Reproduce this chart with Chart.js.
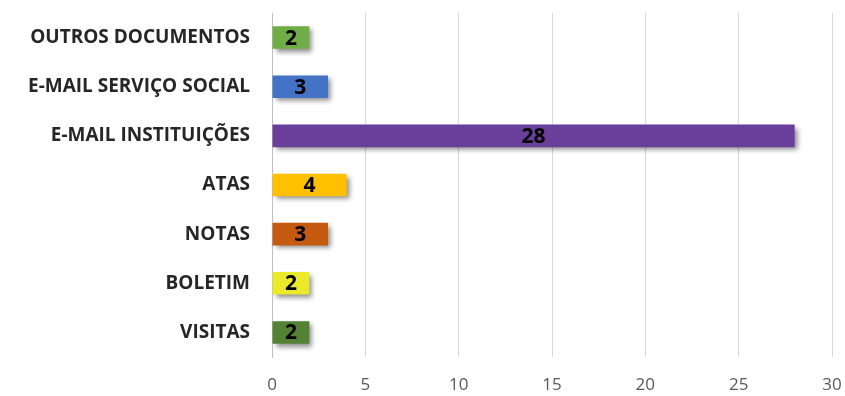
<!DOCTYPE html>
<html>
<head>
<meta charset="utf-8">
<script src="https://cdn.jsdelivr.net/npm/chart.js@4/dist/chart.umd.min.js"></script>
<style>
  html, body { margin: 0; padding: 0; background: #fff; }
  #wrap { width: 845px; height: 396px; }
</style>
</head>
<body>
<div id="wrap"><canvas id="docchart"></canvas></div>
<script>
// categories, top to bottom
var categorias = ['OUTROS DOCUMENTOS', 'E-MAIL SERVIÇO SOCIAL', 'E-MAIL INSTITUIÇÕES', 'ATAS', 'NOTAS', 'BOLETIM', 'VISITAS'];
var quantidades = [2, 3, 28, 4, 3, 2, 2];
var cores = ['#70AD47', '#4472C4', '#6A3F9B', '#FFC000', '#C55A11', '#EAEA2A', '#548235'];
var eixoX = [0, 5, 10, 15, 20, 25, 30];

// soft drop shadow under the bars
const sombraBarras = {
    id: 'sombraBarras',
    beforeDatasetsDraw(chart) {
        const ctx = chart.ctx;
        ctx.save();
        ctx.shadowColor = 'rgba(0,0,0,0.45)';
        ctx.shadowBlur = 5;
        ctx.shadowOffsetX = 3;
        ctx.shadowOffsetY = 3;
    },
    afterDatasetsDraw(chart) {
        chart.ctx.restore();
    }
};

// value written in the middle of each bar
const rotulosValor = {
    id: 'rotulosValor',
    afterDatasetsDraw(chart) {
        const ctx = chart.ctx;
        const meta = chart.getDatasetMeta(0);
        ctx.save();
        ctx.font = 'bold 21px "Open Sans", sans-serif';
        ctx.fillStyle = '#000';
        ctx.textAlign = 'center';
        ctx.textBaseline = 'middle';
        meta.data.forEach(function (bar, i) {
            const cx = (bar.x + bar.base) / 2;
            ctx.fillText(String(quantidades[i]), cx, bar.y + 1);
        });
        ctx.restore();
    }
};

new Chart(document.getElementById('docchart'), {
    type: 'bar',
    data: {
        labels: categorias,
        datasets: [{
            data: quantidades,
            backgroundColor: cores,
            borderWidth: 0,
            barPercentage: 0.46,
            categoryPercentage: 1
        }]
    },
    options: {
        indexAxis: 'y',
        responsive: true,
        maintainAspectRatio: false,
        animation: false,
        layout: { padding: { top: 13, right: 13, bottom: 2, left: 4 } },
        plugins: {
            legend: { display: false },
            tooltip: { enabled: false }
        },
        scales: {
            x: {
                min: 0,
                max: 30,
                afterBuildTicks(scale) {
                    scale.ticks = eixoX.map(function (v) { return { value: v }; });
                },
                afterFit(scale) {
                    scale.height = 37;
                    scale.paddingRight = 0;
                    scale.paddingLeft = 0;
                },
                grid: { color: '#D9D9D9', lineWidth: 1, drawTicks: false },
                border: { display: false },
                ticks: {
                    color: '#595959',
                    padding: 18,
                    font: { family: '"Open Sans", sans-serif', size: 17 }
                }
            },
            y: {
                afterFit(scale) {
                    scale.width = 268;
                    scale.paddingTop = 0;
                    scale.paddingBottom = 0;
                },
                grid: { display: false, drawTicks: false },
                border: { display: true, color: '#BFBFBF', width: 1 },
                ticks: {
                    color: '#262626',
                    padding: 22,
                    font: { family: '"Open Sans", sans-serif', size: 19, weight: 'bold' }
                }
            }
        }
    },
    plugins: [sombraBarras, rotulosValor]
});
</script>
</body>
</html>
